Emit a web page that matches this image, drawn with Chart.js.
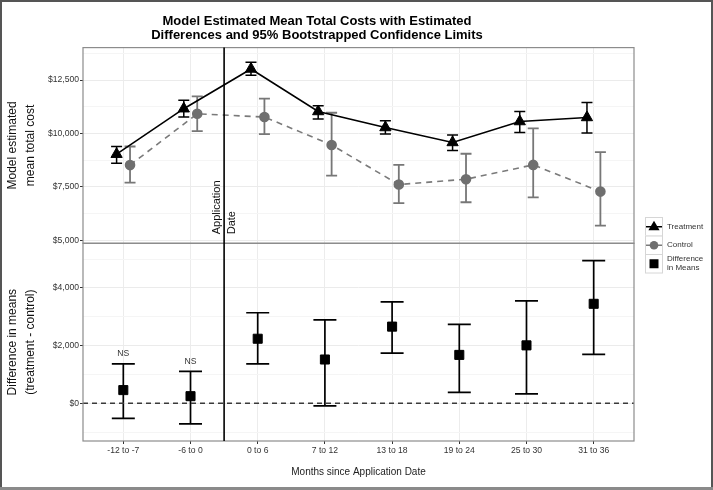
<!DOCTYPE html>
<html>
<head>
<meta charset="utf-8">
<title>Model Estimated Mean Total Costs</title>
<script src="https://cdn.jsdelivr.net/npm/chart.js@4.4.0/dist/chart.umd.min.js"></script>
<style>
  html, body { margin: 0; padding: 0; background: #fff; }
  canvas { display: block; }
</style>
</head>
<body>
<canvas id="chart" width="713" height="490"></canvas>
<script>
// Months since application date
const categories = ['-12 to -7', '-6 to 0', '0 to 6', '7 to 12', '13 to 18', '19 to 24', '25 to 30', '31 to 36'];

// Treatment: mean and 95% limits
const treatMean = [9030, 11160, 13020, 11030, 10280, 9580, 10560, 10750];
const treatLow  = [8610, 10770, 12720, 10680, 9970, 9200, 10050, 10020];
const treatHigh = [9390, 11550, 13330, 11300, 10600, 9930, 11030, 11450];

// Control: mean and 95% limits
const ctrlMean = [8520, 10920, 10770, 9460, 7610, 7860, 8530, 7280];
const ctrlLow  = [7700, 10110, 9970, 8030, 6740, 6780, 7010, 5690];
const ctrlHigh = [9390, 11740, 11630, 10970, 8530, 9050, 10240, 9130];

// Difference in means (treatment - control)
const diffMean = [460, 250, 2240, 1520, 2660, 1680, 2010, 3450];
const diffLow  = [-520, -710, 1370, -90, 1740, 380, 330, 1700];
const diffHigh = [1370, 1110, 3140, 2890, 3520, 2740, 3550, 4950];
const nsLabels = ['NS', 'NS', '', '', '', '', '', ''];

// Tick values
const topTicks = [5000, 6250, 7500, 8750, 10000, 11250, 12500, 13750];
const botTicks = [-1000, 0, 1000, 2000, 3000, 4000, 5000];
const applicationX = 1.5;

const FONT = '"Liberation Sans", Arial, sans-serif';
const money = v => '$' + v.toLocaleString('en-US');

// draws the 95% limits for every dataset that has them
const errorBars = {
    id: 'errorBars',
    beforeDatasetsDraw(chart) {
        const ctx = chart.ctx;
        chart.data.datasets.forEach((ds, di) => {
            if (!ds.errLow) return;
            const meta = chart.getDatasetMeta(di);
            const yScale = chart.scales[ds.yAxisID];
            ctx.save();
            ctx.strokeStyle = ds.errColor;
            ctx.lineWidth = ds.errWidth;
            meta.data.forEach((pt, i) => {
                const yLo = yScale.getPixelForValue(ds.errLow[i]);
                const yHi = yScale.getPixelForValue(ds.errHigh[i]);
                const half = ds.capWidth / 2;
                ctx.beginPath();
                ctx.moveTo(pt.x, yLo); ctx.lineTo(pt.x, yHi);
                ctx.moveTo(pt.x - half, yLo); ctx.lineTo(pt.x + half, yLo);
                ctx.moveTo(pt.x - half, yHi); ctx.lineTo(pt.x + half, yHi);
                ctx.stroke();
            });
            ctx.restore();
        });
    }
};

// zero line, panel borders, application date line and text labels
const panels = {
    id: 'panels',
    beforeDatasetsDraw(chart) {
        const { ctx, chartArea, scales } = chart;
        const y0 = scales.yBot.getPixelForValue(0);
        ctx.save();
        ctx.strokeStyle = '#3a3a3a';
        ctx.lineWidth = 1.5;
        ctx.setLineDash([5, 4]);
        ctx.beginPath();
        ctx.moveTo(chartArea.left, y0);
        ctx.lineTo(chartArea.right, y0);
        ctx.stroke();
        ctx.restore();
    },
    afterDatasetsDraw(chart) {
        const { ctx, chartArea, scales } = chart;
        ctx.save();
        // panel borders
        ctx.strokeStyle = '#8c8c8c';
        ctx.lineWidth = 1.2;
        [scales.yTop, scales.yBot].forEach(s => {
            ctx.strokeRect(chartArea.left, s.top, chartArea.right - chartArea.left, s.bottom - s.top);
        });
        // application date
        const xa = scales.x.getPixelForValue(applicationX);
        ctx.strokeStyle = '#000';
        ctx.lineWidth = 1.6;
        ctx.beginPath();
        ctx.moveTo(xa, chartArea.top);
        ctx.lineTo(xa, chartArea.bottom);
        ctx.stroke();

        ctx.fillStyle = '#111';
        ctx.font = '11px ' + FONT;
        ctx.textAlign = 'left';
        ctx.textBaseline = 'middle';
        ctx.translate(xa, scales.yTop.getPixelForValue(5280));
        ctx.rotate(-Math.PI / 2);
        ctx.fillText('Application', 0, -7.5);
        ctx.fillText('Date', 0, 7.5);
        ctx.setTransform(1, 0, 0, 1, 0, 0);

        // NS labels
        const diffMeta = chart.getDatasetMeta(2);
        ctx.font = '8.6px ' + FONT;
        ctx.fillStyle = '#333';
        ctx.textAlign = 'center';
        nsLabels.forEach((t, i) => {
            if (!t) return;
            const y = scales.yBot.getPixelForValue(diffHigh[i]) - 10;
            ctx.fillText(t, diffMeta.data[i].x, y);
        });
        ctx.restore();
    },
    afterDraw(chart) {
        const ctx = chart.ctx;
        ctx.save();
        // legend
        const keys = [
            { label: ['Treatment'], shape: 'triangle', color: '#000', line: '#000' },
            { label: ['Control'], shape: 'circle', color: '#6f6f6f', line: '#7a7a7a' },
            { label: ['Difference', 'in Means'], shape: 'square', color: '#000', line: null }
        ];
        const kx = 645, kw = 17, kh = 18.5;
        let ky = 217;
        keys.forEach(k => {
            ctx.fillStyle = '#fff';
            ctx.fillRect(kx, ky, kw, kh);
            ctx.strokeStyle = '#d6d6d6';
            ctx.lineWidth = 1;
            ctx.strokeRect(kx + 0.5, ky + 0.5, kw, kh);
            const cx = kx + kw / 2 + 0.5, cy = ky + kh / 2 + 0.5;
            if (k.line) {
                ctx.strokeStyle = k.line;
                ctx.lineWidth = 1.5;
                ctx.beginPath();
                ctx.moveTo(kx + 1, cy);
                ctx.lineTo(kx + kw, cy);
                ctx.stroke();
            }
            ctx.fillStyle = k.color;
            ctx.beginPath();
            if (k.shape === 'triangle') {
                ctx.moveTo(cx, cy - 6);
                ctx.lineTo(cx + 5.6, cy + 3.5);
                ctx.lineTo(cx - 5.6, cy + 3.5);
                ctx.closePath();
            } else if (k.shape === 'circle') {
                ctx.arc(cx, cy, 4.3, 0, Math.PI * 2);
            } else {
                ctx.rect(cx - 4.5, cy - 4.5, 9, 9);
            }
            ctx.fill();
            ctx.fillStyle = '#333';
            ctx.font = '8px ' + FONT;
            ctx.textAlign = 'left';
            ctx.textBaseline = 'middle';
            const n = k.label.length;
            k.label.forEach((t, i) => ctx.fillText(t, kx + kw + 5, cy + (i - (n - 1) / 2) * 9));
            ky += kh;
        });
        // outer frame
        ctx.strokeStyle = '#555';
        ctx.lineWidth = 2;
        ctx.strokeRect(1, 1, chart.width - 2, chart.height - 2);
        ctx.fillStyle = '#8a8a8a';
        ctx.fillRect(0, chart.height - 3, chart.width, 3);
        ctx.restore();
    }
};

const gridColor = major => ctx => (ctx.tick && major.includes(ctx.tick.value)) ? '#ebebeb' : '#f5f5f5';
const tickColor = major => ctx => (ctx.tick && major.includes(ctx.tick.value)) ? '#333' : 'rgba(0,0,0,0)';
const topMajor = [5000, 7500, 10000, 12500];
const botMajor = [0, 2000, 4000];

new Chart(document.getElementById('chart'), {
    type: 'scatter',
    data: {
        datasets: [
            {
                label: 'Treatment',
                data: treatMean.map((v, i) => ({ x: i - 0.1, y: v })),
                yAxisID: 'yTop',
                showLine: true,
                borderColor: '#000',
                borderWidth: 1.6,
                pointStyle: 'triangle',
                pointRadius: 6.5,
                pointBackgroundColor: '#000',
                pointBorderColor: '#000',
                pointBorderWidth: 1,
                errLow: treatLow, errHigh: treatHigh, errColor: '#000', errWidth: 1.5, capWidth: 11
            },
            {
                label: 'Control',
                data: ctrlMean.map((v, i) => ({ x: i + 0.1, y: v })),
                yAxisID: 'yTop',
                showLine: true,
                borderColor: '#7a7a7a',
                borderWidth: 1.6,
                borderDash: [6, 5],
                pointStyle: 'circle',
                pointRadius: 4.5,
                pointBackgroundColor: '#6f6f6f',
                pointBorderColor: '#6f6f6f',
                errLow: ctrlLow, errHigh: ctrlHigh, errColor: '#777', errWidth: 1.8, capWidth: 11
            },
            {
                label: 'Difference in Means',
                data: diffMean.map((v, i) => ({ x: i, y: v })),
                yAxisID: 'yBot',
                showLine: false,
                pointStyle: 'rect',
                pointRadius: 6.4,
                pointBackgroundColor: '#000',
                pointBorderColor: '#000',
                errLow: diffLow, errHigh: diffHigh, errColor: '#000', errWidth: 1.7, capWidth: 23
            }
        ]
    },
    options: {
        responsive: false,
        animation: false,
        devicePixelRatio: 1,
        layout: { padding: { left: 0, right: 79, top: 0, bottom: 0 } },
        plugins: {
            legend: { display: false },
            tooltip: { enabled: false },
            title: {
                display: true,
                text: ['Model Estimated Mean Total Costs with Estimated', 'Differences and 95% Bootstrapped Confidence Limits'],
                color: '#000',
                font: { family: FONT, size: 13, weight: 'bold', lineHeight: 1.1 },
                padding: { top: 14, bottom: 5 }
            }
        },
        scales: {
            x: {
                type: 'linear',
                min: -0.6,
                max: 7.6,
                afterBuildTicks: s => { s.ticks = categories.map((c, i) => ({ value: i })); },
                afterFit: s => { s.height = 49; },
                ticks: {
                    autoSkip: false,
                    maxRotation: 0,
                    padding: 1,
                    color: '#333',
                    font: { family: FONT, size: 8.6 },
                    callback: v => categories[v]
                },
                grid: { color: '#ececec', tickColor: '#333', tickLength: 3 },
                border: { display: false },
                title: {
                    display: true,
                    text: 'Months since Application Date',
                    color: '#222',
                    font: { family: FONT, size: 10 },
                    padding: { top: 0, bottom: 12 }
                }
            },
            yTop: {
                type: 'linear',
                position: 'left',
                stack: 'panels',
                stackWeight: 196,
                weight: 2,
                min: 4859,
                max: 14020,
                afterBuildTicks: s => { s.ticks = topTicks.map(v => ({ value: v })); },
                afterFit: s => { s.width = 83; },
                ticks: {
                    autoSkip: false,
                    padding: 1,
                    color: '#333',
                    font: { family: FONT, size: 8.6 },
                    callback: v => topMajor.includes(v) ? money(v) : ''
                },
                grid: { color: gridColor(topMajor), tickColor: tickColor(topMajor), tickLength: 3 },
                border: { display: false },
                title: {
                    display: true,
                    text: ['Model estimated', 'mean total cost'],
                    color: '#111',
                    font: { family: FONT, size: 12, lineHeight: 1.5 },
                    padding: { top: 4, bottom: 0 }
                }
            },
            yBot: {
                type: 'linear',
                position: 'left',
                stack: 'panels',
                stackWeight: 198,
                weight: 1,
                min: -1304,
                max: 5547,
                afterBuildTicks: s => { s.ticks = botTicks.map(v => ({ value: v })); },
                afterFit: s => { s.width = 83; },
                ticks: {
                    autoSkip: false,
                    padding: 1,
                    color: '#333',
                    font: { family: FONT, size: 8.6 },
                    callback: v => botMajor.includes(v) ? money(v) : ''
                },
                grid: { color: gridColor(botMajor), tickColor: tickColor(botMajor), tickLength: 3 },
                border: { display: false },
                title: {
                    display: true,
                    text: ['Difference in means', '(treatment - control)'],
                    color: '#111',
                    font: { family: FONT, size: 12, lineHeight: 1.5 },
                    padding: { top: 4, bottom: 0 }
                }
            }
        }
    },
    plugins: [errorBars, panels]
});
</script>
</body>
</html>
